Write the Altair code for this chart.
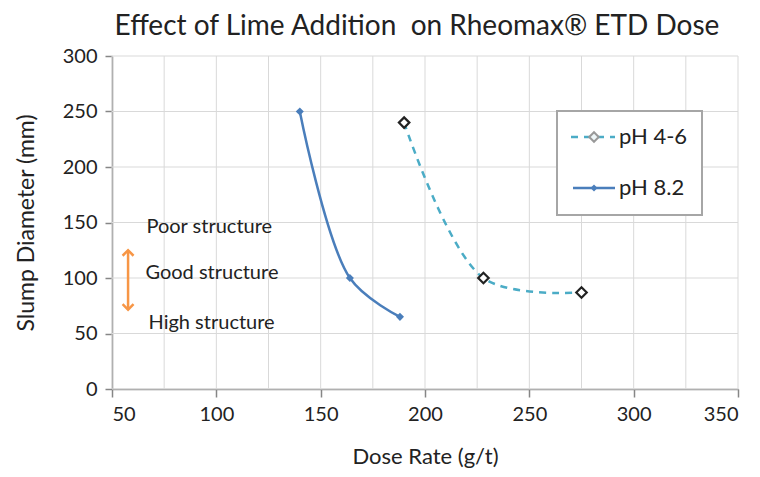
import altair as alt
import pandas as pd

# ---- data ----
series_names = ["pH 4-6", "pH 8.2"]
dose_ph46 = [190, 228, 275]
slump_ph46 = [240, 100, 87]
dose_ph82 = [140, 164, 188]
slump_ph82 = [250, 100, 65]

x_ticks = [50, 100, 150, 200, 250, 300, 350]
x_grid = [50, 75, 100, 125, 150, 175, 200, 225, 250, 275, 300, 325, 350]
y_ticks = [0, 50, 100, 150, 200, 250, 300]

zone_labels = ["Poor structure", "Good structure", "High structure"]
zone_y = [146, 104.5, 59.5]
zone_x = [66.5, 66, 67.5]
arrow_x = [57.7]
arrow_y = [123.5, 73]

title_text = "Effect of Lime Addition\u00a0 on Rheomax® ETD Dose"
x_title = "Dose Rate (g/t)"
y_title = "Slump Diameter (mm)"

FONT = "Lato"
C46 = "#4BACC6"
C82 = "#4A7EBB"
ORANGE = "#F79646"
GRID = "#D9D9D9"
AXIS = "#868686"

df46 = pd.DataFrame({"dose": dose_ph46, "slump": slump_ph46, "series": series_names[0]})
df82 = pd.DataFrame({"dose": dose_ph82, "slump": slump_ph82, "series": series_names[1]})

xs = alt.Scale(domain=[50, 350], nice=False, zero=False)
ys = alt.Scale(domain=[0, 300], nice=False)

X = lambda f="dose": alt.X(f"{f}:Q", scale=xs, axis=None)
Y = lambda f="slump": alt.Y(f"{f}:Q", scale=ys, axis=None)

# grid
gx = alt.Chart(pd.DataFrame({"v": x_grid})).mark_rule(color=GRID, strokeWidth=1).encode(
    x=alt.X("v:Q", scale=xs, axis=None))
gy = alt.Chart(pd.DataFrame({"v": y_ticks})).mark_rule(color=GRID, strokeWidth=1).encode(
    y=alt.Y("v:Q", scale=ys, axis=None))

# axes (drawn via an invisible layer carrying the axes)
axes = alt.Chart(pd.DataFrame({"dose": [50, 350], "slump": [0, 300]})).mark_point(opacity=0).encode(
    x=alt.X("dose:Q", scale=xs, title=x_title,
            axis=alt.Axis(values=x_ticks, grid=False, domainColor=AXIS, domainWidth=1.5,
                          tickColor=AXIS, tickWidth=1.5, tickSize=8, labelFontSize=20,
                          labelFont=FONT, labelColor="#222", labelPadding=7,
                          titleFont=FONT, titleFontSize=22, titleFontWeight="normal",
                          titleColor="#222", titlePadding=22)),
    y=alt.Y("slump:Q", scale=ys, title=y_title,
            axis=alt.Axis(values=y_ticks, grid=False, domainColor=AXIS, domainWidth=1.5,
                          tickColor=AXIS, tickWidth=1.5, tickSize=7, labelFontSize=20,
                          labelFont=FONT, labelColor="#222", labelPadding=8,
                          titleFont=FONT, titleFontSize=23, titleFontWeight="normal",
                          titleColor="#222", titlePadding=24)),
)

line46 = alt.Chart(df46).mark_line(color=C46, strokeWidth=2.5, strokeDash=[7, 6],
                                   interpolate="catmull-rom").encode(x=X(), y=Y())
line82 = alt.Chart(df82).mark_line(color=C82, strokeWidth=2.5,
                                   interpolate="catmull-rom").encode(x=X(), y=Y())
pts46 = alt.Chart(df46).mark_point(shape="diamond", filled=False, fill="white", stroke="#222",
                                   strokeWidth=2.2, size=110, opacity=1).encode(x=X(), y=Y())
pts82 = alt.Chart(df82).mark_point(shape="diamond", filled=True, color=C82,
                                   size=65, opacity=1).encode(x=X(), y=Y())

# annotations
ann = alt.Chart(pd.DataFrame({"x": zone_x, "y": zone_y, "t": zone_labels})).mark_text(
    align="left", baseline="middle", font=FONT, fontSize=20, color="#222").encode(
    x=alt.X("x:Q", scale=xs, axis=None), y=alt.Y("y:Q", scale=ys, axis=None), text="t:N")

arrow_df = pd.DataFrame({"x": arrow_x, "y": [arrow_y[0]], "y2": [arrow_y[1]]})
arrow = alt.Chart(arrow_df).mark_rule(color=ORANGE, strokeWidth=2.5).encode(
    x=alt.X("x:Q", scale=xs, axis=None), y=alt.Y("y:Q", scale=ys, axis=None), y2="y2:Q")
heads_df = pd.DataFrame({"x": arrow_x * 2, "y": arrow_y, "dir": ["up", "down"]})
head_up = alt.Chart(heads_df[heads_df.dir == "up"]).mark_point(
    shape="M-1,0.7L0,-0.3L1,0.7", filled=False, stroke=ORANGE, strokeWidth=2.5, size=120,
    opacity=1).encode(x=alt.X("x:Q", scale=xs, axis=None), y=alt.Y("y:Q", scale=ys, axis=None))
head_dn = alt.Chart(heads_df[heads_df.dir == "down"]).mark_point(
    shape="M-1,-0.7L0,0.3L1,-0.7", filled=False, stroke=ORANGE, strokeWidth=2.5, size=120,
    opacity=1).encode(x=alt.X("x:Q", scale=xs, axis=None), y=alt.Y("y:Q", scale=ys, axis=None))

# legend (box and entries, pixel positions inside the plot area)
one = pd.DataFrame({"k": [0]})
leg_box = alt.Chart(one).mark_rect(fill="white", stroke="#A6A6A6", strokeWidth=2).encode(
    x=alt.value(445), x2=alt.value(590), y=alt.value(55), y2=alt.value(159))
leg_l1 = alt.Chart(one).mark_rule(color=C46, strokeWidth=2.5, strokeDash=[7, 6]).encode(
    x=alt.value(459), x2=alt.value(503), y=alt.value(81))
leg_l2 = alt.Chart(one).mark_rule(color=C82, strokeWidth=2.5).encode(
    x=alt.value(461), x2=alt.value(503), y=alt.value(132))
leg_p1 = alt.Chart(one).mark_point(shape="diamond", filled=True, fill="#EEF6F8", stroke="#999",
                                   strokeWidth=2, size=90, opacity=1).encode(
    x=alt.value(482), y=alt.value(81))
leg_p2 = alt.Chart(one).mark_point(shape="diamond", filled=True, color=C82, size=50,
                                   opacity=1).encode(x=alt.value(482), y=alt.value(132))
leg_txt = alt.Chart(pd.DataFrame({"t": series_names, "yy": [81, 132]})).mark_text(
    align="left", baseline="middle", font=FONT, fontSize=22, color="#222").encode(
    x=alt.value(507), y=alt.Y("yy:Q", scale=alt.Scale(domain=[0, 333], range=[0, 333]), axis=None),
    text="t:N")

chart = alt.layer(
    gx, gy, axes, line46, line82, pts46, pts82, ann, arrow, head_up, head_dn,
    leg_box, leg_l1, leg_l2, leg_p1, leg_p2, leg_txt
).resolve_scale(x="independent", y="independent").properties(
    width=626, height=333,
    autosize=alt.AutoSizeParams(type="none"),
    padding={"left": 104, "top": 48, "right": 14, "bottom": 80},
    title=alt.TitleParams(title_text, font=FONT, fontSize=28, fontWeight="normal",
                          color="#222", anchor="middle", offset=5, dx=-8),
).configure_view(stroke=None)

chart.save("out.html", embed_options={"renderer": "svg", "actions": False})
